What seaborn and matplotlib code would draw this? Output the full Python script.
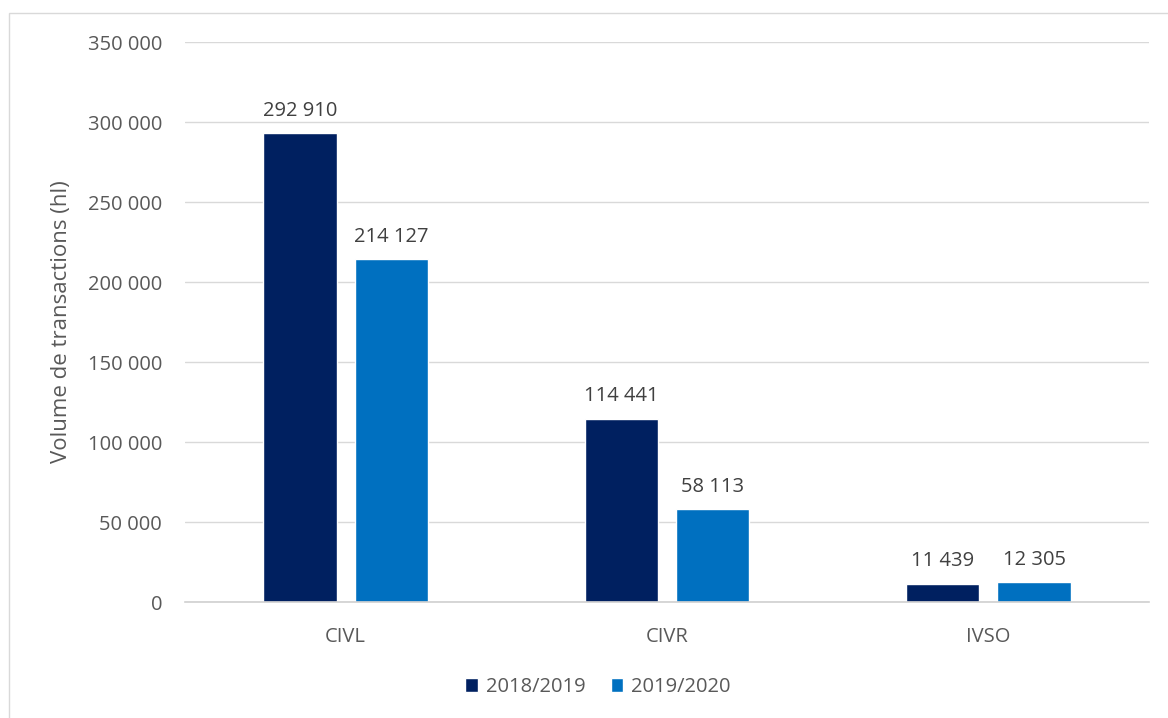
import pandas as pd
import seaborn as sns
import matplotlib.pyplot as plt
from matplotlib.patches import Rectangle
from matplotlib.ticker import FuncFormatter

# data
regions = ["CIVL", "CIVR", "IVSO"]
seasons = ["2018/2019", "2019/2020"]
vol_2018_2019 = [292910, 114441, 11439]
vol_2019_2020 = [214127, 58113, 12305]

df = pd.DataFrame({
    "Region": regions * 2,
    "Season": [seasons[0]] * 3 + [seasons[1]] * 3,
    "Volume": vol_2018_2019 + vol_2019_2020,
})

sns.set_style("white")
plt.rcParams["font.family"] = ["Open Sans", "DejaVu Sans"]
grey = "#595959"


def fmt(v):
    return f"{int(round(v)):,}".replace(",", " ")


fig = plt.figure(figsize=(11.68, 7.18), dpi=100)
ax = fig.add_axes([185 / 1168, 1 - 602 / 718, 964 / 1168, 560 / 718])

sns.barplot(
    data=df, x="Region", y="Volume", hue="Season", order=regions,
    hue_order=seasons, palette=["#002060", "#0070C0"], saturation=1,
    width=0.57, gap=0.2, ax=ax, legend=True,
)

ax.set_ylim(0, 350000)
ax.set_yticks(range(0, 350001, 50000))
ax.yaxis.set_major_formatter(FuncFormatter(lambda v, p: fmt(v)))
ax.grid(axis="y", color="#d9d9d9", linewidth=1)
ax.set_axisbelow(True)
for s in ["top", "right", "left"]:
    ax.spines[s].set_visible(False)
ax.spines["bottom"].set_color("#d0d0d0")
ax.spines["bottom"].set_linewidth(1.2)
ax.tick_params(axis="y", length=0, pad=16.5, labelsize=14.5, labelcolor=grey)
ax.tick_params(axis="x", length=0, pad=18, labelsize=14.5, labelcolor=grey)
ax.set_xlabel("")
ax.set_ylabel("Volume de transactions (hl)", fontsize=16, color=grey)
ax.yaxis.set_label_coords(-0.117, 0.5)

for cont in ax.containers:
    ax.bar_label(cont, labels=[fmt(b.get_height()) for b in cont],
                 padding=9, fontsize=14.5, color="#404040")

ax.legend(loc="center", bbox_to_anchor=(598 / 1168, 1 - 687 / 718),
          bbox_transform=fig.transFigure, ncol=2, frameon=False,
          fontsize=14.5, labelcolor=grey, handlelength=0.63,
          handleheight=0.63, columnspacing=1.25, handletextpad=0.4)

fig.patches.append(Rectangle((9 / 1168, -0.05), 1.2, 1 - 13 / 718 + 0.05,
                             transform=fig.transFigure, fill=False,
                             edgecolor="#d9d9d9", linewidth=1))

fig.savefig("out.png", dpi=100)
